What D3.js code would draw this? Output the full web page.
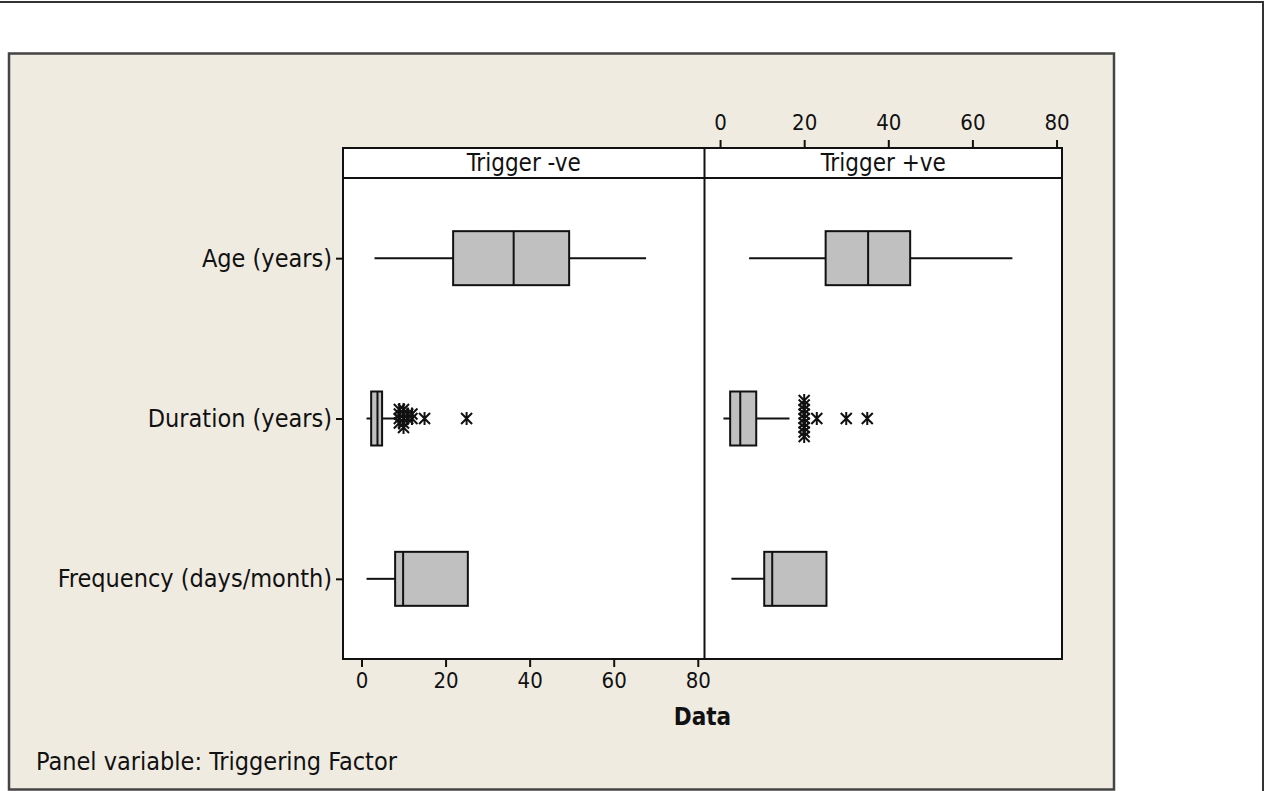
<!DOCTYPE html>
<html>
<head>
<meta charset="utf-8">
<script src="https://cdn.jsdelivr.net/npm/d3@7"></script>
<style>
  html, body { margin: 0; padding: 0; background: #fff; }
  svg { display: block; }
  text { font-family: Tahoma, "DejaVu Sans Condensed", "DejaVu Sans", sans-serif; fill: #111; }
</style>
</head>
<body>
<div id="chart"></div>
<script>
(function () {
    "use strict";

    const WIDTH = 1271;
    const HEIGHT = 791;
    const FRAME_COLOR = "#efebe1";
    const BOX_COLOR = "#c0c0c0";
    const LINE_COLOR = "#111";
    const LABEL_SIZE = "25px";
    const TICK_SIZE = "22px";

    /* ---- data ---- */
    const panels = ["Trigger -ve", "Trigger +ve"];
    const variables = ["Age (years)", "Duration (years)", "Frequency (days/month)"];
    const tickValues = [0, 20, 40, 60, 80];

    // [panel][variable]
    const lowWhisker  = [[3.1, 1.2, 1.2], [6.9, 0.8, 2.7]];
    const q1          = [[21.8, 2.3, 8.0], [25.1, 2.4, 10.5]];
    const median      = [[36.2, 3.8, 9.9], [35.2, 4.8, 12.4]];
    const q3          = [[49.4, 4.9, 25.3], [45.2, 8.6, 25.3]];
    const highWhisker = [[67.7, 8.5, 25.3], [69.5, 16.5, 25.3]];

    // outliers (only Duration has them)
    const durationOutliersNeg = [9, 9, 9, 9, 10, 10, 10, 10, 10, 11, 11, 12, 12, 15, 25];
    const durationOutliersPos = [20, 20, 20, 20, 20, 20, 20, 20, 20, 23, 30, 35];
    const outliers = [
        [[], durationOutliersNeg, []],
        [[], durationOutliersPos, []]
    ];

    /* ---- layout ---- */
    const plotLeft = 343, plotRight = 1062, plotTop = 148, stripBottom = 178, plotBottom = 659;
    const divider = 704.5;

    const xScales = [
        d3.scaleLinear().domain([-4.4, 81.6]).range([plotLeft, divider]),
        d3.scaleLinear().domain([-3.7, 81.3]).range([divider, plotRight])
    ];
    const y = d3.scalePoint().domain(variables).range([stripBottom, plotBottom]).padding(0.5);
    const boxHalf = 27;

    const svg = d3.select("#chart").append("svg")
        .attr("width", WIDTH).attr("height", HEIGHT);

    /* outer border (top and right edges) */
    svg.append("path")
        .attr("d", "M0,2H1263V" + HEIGHT)
        .attr("fill", "none").attr("stroke", "#333").attr("stroke-width", 2);

    /* beige frame */
    svg.append("rect")
        .attr("x", 9).attr("y", 53.5).attr("width", 1105).attr("height", 736)
        .attr("fill", FRAME_COLOR).attr("stroke", "#444").attr("stroke-width", 2.5);

    /* plot area */
    svg.append("rect")
        .attr("x", plotLeft).attr("y", plotTop)
        .attr("width", plotRight - plotLeft).attr("height", plotBottom - plotTop)
        .attr("fill", "#fff");

    /* panel strips */
    panels.forEach(function (p, i) {
        const r = xScales[i].range();
        svg.append("text")
            .attr("x", (r[0] + r[1]) / 2).attr("y", 171)
            .attr("text-anchor", "middle")
            .style("font-size", "24px")
            .text(p);
    });

    /* boxes */
    const star = "M-5.5,-5.5L5.5,5.5M-5.5,5.5L5.5,-5.5M0,-6.5L0,6.5";
    panels.forEach(function (p, pi) {
        const x = xScales[pi];
        const g = svg.append("g");
        variables.forEach(function (v, vi) {
            const cy = y(v);
            // whiskers
            g.append("line")
                .attr("x1", x(lowWhisker[pi][vi])).attr("x2", x(q1[pi][vi]))
                .attr("y1", cy).attr("y2", cy)
                .attr("stroke", LINE_COLOR).attr("stroke-width", 2);
            g.append("line")
                .attr("x1", x(q3[pi][vi])).attr("x2", x(highWhisker[pi][vi]))
                .attr("y1", cy).attr("y2", cy)
                .attr("stroke", LINE_COLOR).attr("stroke-width", 2);
            // box
            g.append("rect")
                .attr("x", x(q1[pi][vi])).attr("y", cy - boxHalf)
                .attr("width", x(q3[pi][vi]) - x(q1[pi][vi])).attr("height", boxHalf * 2)
                .attr("fill", BOX_COLOR).attr("stroke", LINE_COLOR).attr("stroke-width", 2);
            g.append("line")
                .attr("x1", x(median[pi][vi])).attr("x2", x(median[pi][vi]))
                .attr("y1", cy - boxHalf).attr("y2", cy + boxHalf)
                .attr("stroke", LINE_COLOR).attr("stroke-width", 2);
            // outliers, ties stacked vertically
            const seen = {};
            outliers[pi][vi].forEach(function (val) {
                const k = seen[val] || 0;
                seen[val] = k + 1;
                const off = k === 0 ? 0 : (k % 2 === 1 ? -1 : 1) * Math.ceil(k / 2) * 4.5;
                g.append("path")
                    .attr("d", star)
                    .attr("transform", "translate(" + x(val) + "," + (cy + off) + ")")
                    .attr("fill", "none").attr("stroke", LINE_COLOR).attr("stroke-width", 2);
            });
        });
    });

    /* plot borders */
    svg.append("rect")
        .attr("x", plotLeft).attr("y", plotTop)
        .attr("width", plotRight - plotLeft).attr("height", plotBottom - plotTop)
        .attr("fill", "none").attr("stroke", LINE_COLOR).attr("stroke-width", 2);
    svg.append("line")
        .attr("x1", plotLeft).attr("x2", plotRight).attr("y1", stripBottom).attr("y2", stripBottom)
        .attr("stroke", LINE_COLOR).attr("stroke-width", 2);
    svg.append("line")
        .attr("x1", divider).attr("x2", divider).attr("y1", plotTop).attr("y2", plotBottom)
        .attr("stroke", LINE_COLOR).attr("stroke-width", 2);

    /* axes */
    function styleAxis(size) {
        return function (sel) {
            sel.attr("font-family", null);
            sel.select(".domain").remove();
            sel.selectAll(".tick line").attr("stroke", LINE_COLOR).attr("stroke-width", 2);
            sel.selectAll(".tick text")
                .style("font-size", size)
                .attr("fill", "#111");
        };
    }

    svg.append("g")
        .attr("transform", "translate(0," + plotBottom + ")")
        .call(d3.axisBottom(xScales[0]).tickValues(tickValues).tickSize(8).tickPadding(5))
        .call(styleAxis(TICK_SIZE));

    svg.append("g")
        .attr("transform", "translate(0," + plotTop + ")")
        .call(d3.axisTop(xScales[1]).tickValues(tickValues).tickSize(8).tickPadding(10))
        .call(styleAxis(TICK_SIZE));

    svg.append("g")
        .attr("transform", "translate(" + plotLeft + ",0)")
        .call(d3.axisLeft(y).tickSize(7).tickPadding(4))
        .call(styleAxis(LABEL_SIZE));

    /* axis title */
    svg.append("text")
        .attr("x", (plotLeft + plotRight) / 2).attr("y", 725)
        .attr("text-anchor", "middle")
        .style("font-size", "24px").style("font-weight", "bold")
        .text("Data");

    svg.append("text")
        .attr("x", 36).attr("y", 770)
        .style("font-size", LABEL_SIZE)
        .text("Panel variable: Triggering Factor");
})();
</script>
</body>
</html>
